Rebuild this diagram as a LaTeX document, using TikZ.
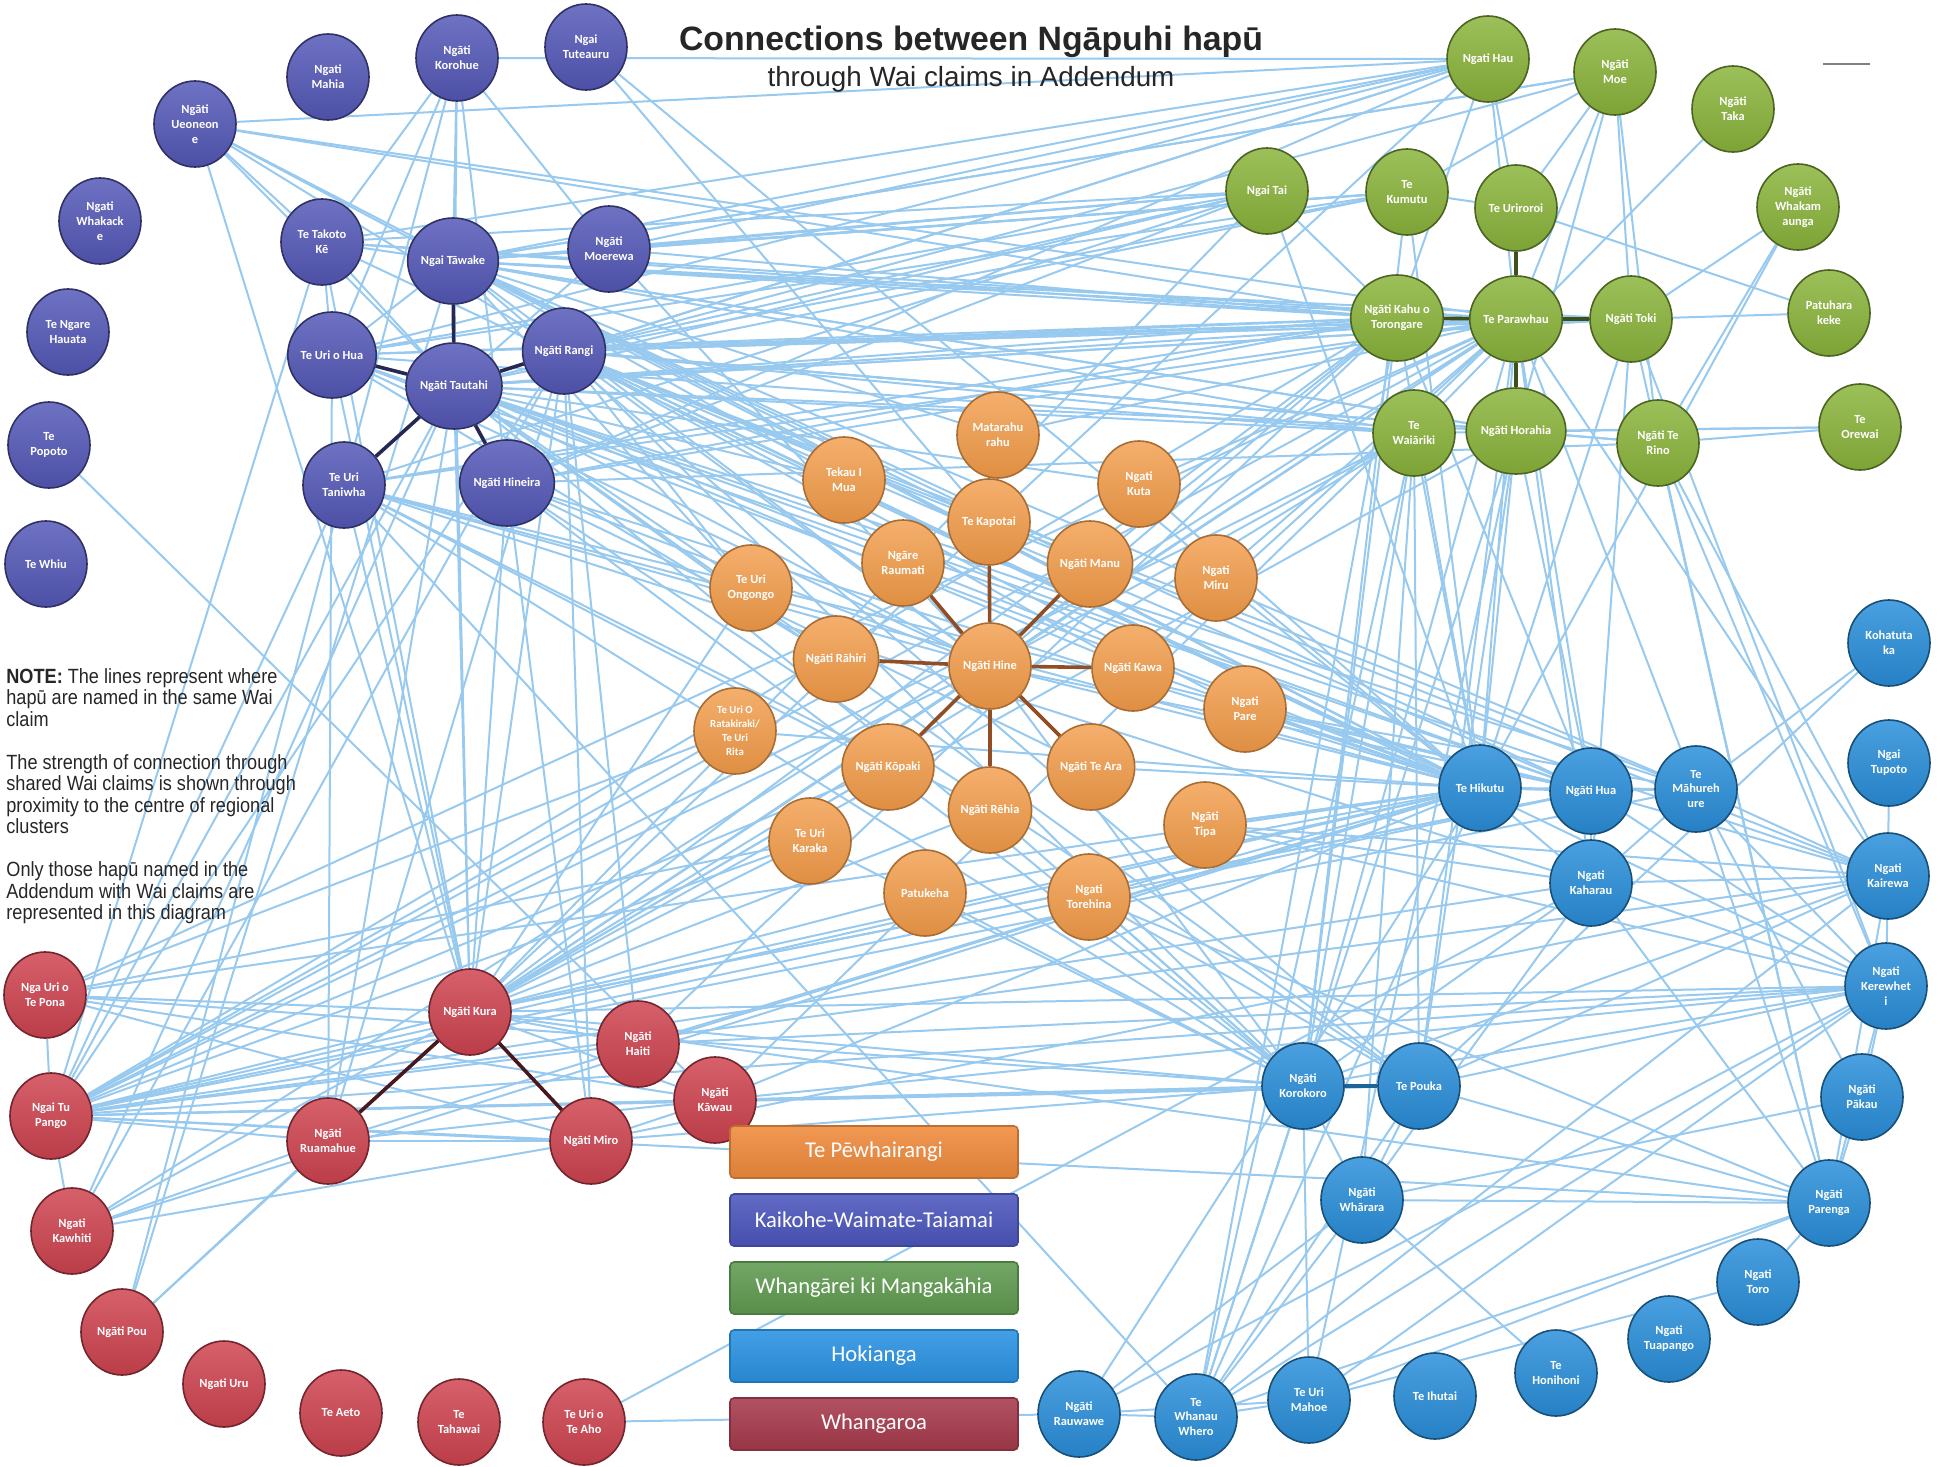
\documentclass[tikz,border=0pt]{standalone}
\usepackage{fontspec}
\setmainfont{Carlito}
\newfontfamily\titlefont{Liberation Sans}
\newfontfamily\notefont[FakeStretch=0.88]{Liberation Sans}
\usetikzlibrary{shapes.geometric}
\usetikzlibrary{backgrounds}

\definecolor{wai}{HTML}{98C9EF}
\definecolor{pewc}{HTML}{F29B48}
\definecolor{kwc}{HTML}{5559B8}
\definecolor{wkmc}{HTML}{8BB53C}
\definecolor{hokc}{HTML}{2A8FDA}
\definecolor{wgc}{HTML}{CF4450}
\definecolor{lpewc}{HTML}{EF8A3C}
\definecolor{lkwc}{HTML}{4C56BC}
\definecolor{lwkmc}{HTML}{5F9A50}
\definecolor{lhokc}{HTML}{2A92E2}
\definecolor{lwgc}{HTML}{A63A4C}

\tikzset{
    hapu/.style={ellipse, minimum width=41pt, minimum height=43pt, inner sep=0pt,
        align=center, text=white, line width=0.8pt,
        font=\bfseries\fontsize{6.2}{7.4}\selectfont},
    pew/.style={draw=pewc!70!black, top color=pewc!80!white, bottom color=pewc!92!black},
    kw/.style={draw=kwc!55!black, top color=kwc!85!white, bottom color=kwc!90!black},
    wkm/.style={draw=wkmc!55!black, top color=wkmc!85!white, bottom color=wkmc!90!black},
    hok/.style={draw=hokc!55!black, top color=hokc!85!white, bottom color=hokc!90!black},
    wg/.style={draw=wgc!55!black, top color=wgc!85!white, bottom color=wgc!90!black},
    link/.style={draw=wai, line width=1pt},
    core/.style={line width=1.8pt},
    region/.style={rectangle, rounded corners=2pt, minimum width=144pt, minimum height=26pt,
        text=white, line width=0.8pt, font=\fontsize{11.3}{13}\selectfont},
    key/.style={region, draw=#1!80!black, top color=#1!88!white, bottom color=#1!92!black},
}

\begin{document}
\begin{tikzpicture}[x=0.5pt, y=-0.5pt]
    \useasboundingbox (0,0) rectangle (1940,1467);

    \node [font=\titlefont\bfseries\fontsize{16.9}{19}\selectfont, text=black!85] (title) at (971,42) {Connections between Ngāpuhi hapū};
    \node [font=\titlefont\fontsize{13.9}{16}\selectfont, text=black!85] (subtitle) at (971,79) {through Wai claims in Addendum};

    \node [anchor=north west, align=left, inner sep=0pt, text=black!85,
           font=\notefont\fontsize{10.3}{10.75}\selectfont] (note) at (6,668)
        {\textbf{NOTE:} The lines represent where\\ hapū are named in the same Wai\\ claim\\[10.75pt]
         The strength of connection through\\ shared Wai claims is shown through\\
         proximity to the centre of regional\\ clusters\\[10.75pt]
         Only those hapū named in the\\ Addendum with Wai claims are\\ represented in this diagram};

    % Kaikohe-Waimate-Taiamai
    \node [hapu,kw] (mahia) at (328,77) {Ngati\\Mahia};
    \node [hapu,kw] (korohue) at (457,58) {Ngāti\\Korohue};
    \node [hapu,kw] (tuteauru) at (586,47) {Ngai\\Tuteauru};
    \node [hapu,kw] (ueoneone) at (195,124) {Ngāti\\Ueoneon\\e};
    \node [hapu,kw] (whakacke) at (100,221) {Ngati\\Whakack\\e};
    \node [hapu,kw] (takoto) at (322,242) {Te Takoto\\Kē};
    \node [hapu,kw] (tawake) at (453,261) {Ngai Tāwake};
    \node [hapu,kw] (moerewa) at (609,249) {Ngāti\\Moerewa};
    \node [hapu,kw] (ngare) at (68,332) {Te Ngare\\Hauata};
    \node [hapu,kw] (urihua) at (332,355) {Te Uri o Hua};
    \node [hapu,kw] (tautahi) at (454,386) {Ngāti Tautahi};
    \node [hapu,kw] (rangi) at (564,351) {Ngāti Rangi};
    \node [hapu,kw] (popoto) at (49,445) {Te\\Popoto};
    \node [hapu,kw] (taniwha) at (344,485) {Te Uri\\Taniwha};
    \node [hapu,kw] (hineira) at (507,483) {Ngāti Hineira};
    \node [hapu,kw] (whiu) at (46,564) {Te Whiu};

    % Whangarei ki Mangakahia
    \node [hapu,wkm] (hau) at (1488,59) {Ngati Hau};
    \node [hapu,wkm] (moe) at (1615,72) {Ngāti\\Moe};
    \node [hapu,wkm] (taka) at (1733,109) {Ngāti\\Taka};
    \node [hapu,wkm] (ngaitai) at (1267,191) {Ngai Tai};
    \node [hapu,wkm] (kumutu) at (1407,192) {Te\\Kumutu};
    \node [hapu,wkm] (uriroroi) at (1516,208) {Te Uriroroi};
    \node [hapu,wkm] (whakam) at (1798,207) {Ngāti\\Whakam\\aunga};
    \node [hapu,wkm] (kahu) at (1397,318) {Ngāti Kahu o\\Torongare};
    \node [hapu,wkm] (parawhau) at (1516,319) {Te Parawhau};
    \node [hapu,wkm] (toki) at (1631,319) {Ngāti Toki};
    \node [hapu,wkm] (patuh) at (1829,313) {Patuhara\\keke};
    \node [hapu,wkm] (wairiki) at (1414,433) {Te\\Waiāriki};
    \node [hapu,wkm] (horahia) at (1516,431) {Ngāti Horahia};
    \node [hapu,wkm] (rino) at (1658,443) {Ngāti Te\\Rino};
    \node [hapu,wkm] (orewai) at (1860,427) {Te\\Orewai};

    % Te Pewhairangi
    \node [hapu,pew] (matara) at (998,435) {Matarahu\\rahu};
    \node [hapu,pew] (tekau) at (844,480) {Tekau I\\Mua};
    \node [hapu,pew] (kuta) at (1139,484) {Ngati\\Kuta};
    \node [hapu,pew] (kapotai) at (989,522) {Te Kapotai};
    \node [hapu,pew] (raumati) at (903,563) {Ngāre\\Raumati};
    \node [hapu,pew] (manu) at (1090,564) {Ngāti Manu};
    \node [hapu,pew] (miru) at (1216,578) {Ngati\\Miru};
    \node [hapu,pew] (ongongo) at (751,588) {Te Uri\\Ongongo};
    \node [hapu,pew] (rahiri) at (836,659) {Ngāti Rāhiri};
    \node [hapu,pew] (hine) at (990,666) {Ngāti Hine};
    \node [hapu,pew] (kawa) at (1133,668) {Ngāti Kawa};
    \node [hapu,pew] (pare) at (1245,709) {Ngati\\Pare};
    \node [hapu,pew, font=\bfseries\fontsize{5.4}{7}\selectfont] (rataki) at (735,731) {Te Uri O\\Ratakiraki/\\Te Uri\\Rita};
    \node [hapu,pew] (kopaki) at (888,767) {Ngāti Kōpaki};
    \node [hapu,pew] (teara) at (1091,767) {Ngāti Te Ara};
    \node [hapu,pew] (rehia) at (990,810) {Ngāti Rēhia};
    \node [hapu,pew] (tipa) at (1205,825) {Ngāti\\Tipa};
    \node [hapu,pew] (karaka) at (810,841) {Te Uri\\Karaka};
    \node [hapu,pew] (patukeha) at (925,893) {Patukeha};
    \node [hapu,pew] (torehina) at (1089,897) {Ngati\\Torehina};

    % Hokianga
    \node [hapu,hok] (kohatu) at (1889,643) {Kohatuta\\ka};
    \node [hapu,hok] (tupoto) at (1889,763) {Ngai\\Tupoto};
    \node [hapu,hok] (hikutu) at (1480,788) {Te Hikutu};
    \node [hapu,hok] (hua) at (1591,791) {Ngāti Hua};
    \node [hapu,hok] (mahure) at (1696,789) {Te\\Māhureh\\ure};
    \node [hapu,hok] (kaharau) at (1591,883) {Ngati\\Kaharau};
    \node [hapu,hok] (kairewa) at (1888,876) {Ngati\\Kairewa};
    \node [hapu,hok] (kerewheti) at (1886,986) {Ngati\\Kerewhet\\i};
    \node [hapu,hok] (korokoro) at (1303,1086) {Ngāti\\Korokoro};
    \node [hapu,hok] (pouka) at (1419,1086) {Te Pouka};
    \node [hapu,hok] (pakau) at (1862,1097) {Ngāti\\Pākau};
    \node [hapu,hok] (wharara) at (1362,1200) {Ngāti\\Whārara};
    \node [hapu,hok] (parenga) at (1829,1203) {Ngāti\\Parenga};
    \node [hapu,hok] (toro) at (1758,1282) {Ngati\\Toro};
    \node [hapu,hok] (tuapango) at (1669,1339) {Ngati\\Tuapango};
    \node [hapu,hok] (honihoni) at (1556,1373) {Te\\Honihoni};
    \node [hapu,hok] (ihutai) at (1435,1396) {Te Ihutai};
    \node [hapu,hok] (urimahoe) at (1309,1400) {Te Uri\\Mahoe};
    \node [hapu,hok] (whanau) at (1196,1417) {Te\\Whanau\\Whero};
    \node [hapu,hok] (rauwawe) at (1079,1414) {Ngāti\\Rauwawe};

    % Whangaroa
    \node [hapu,wg] (pona) at (45,995) {Nga Uri o\\Te Pona};
    \node [hapu,wg] (kura) at (470,1012) {Ngāti Kura};
    \node [hapu,wg] (haiti) at (638,1044) {Ngāti\\Haiti};
    \node [hapu,wg] (tupango) at (51,1116) {Ngai Tu\\Pango};
    \node [hapu,wg] (kawau) at (715,1100) {Ngāti\\Kāwau};
    \node [hapu,wg] (ruamahue) at (328,1141) {Ngāti\\Ruamahue};
    \node [hapu,wg] (miro) at (591,1141) {Ngāti Miro};
    \node [hapu,wg] (kawhiti) at (72,1231) {Ngati\\Kawhiti};
    \node [hapu,wg] (pou) at (122,1332) {Ngāti Pou};
    \node [hapu,wg] (uru) at (224,1384) {Ngati Uru};
    \node [hapu,wg] (aeto) at (341,1413) {Te Aeto};
    \node [hapu,wg] (tahawai) at (459,1422) {Te\\Tahawai};
    \node [hapu,wg] (teaho) at (584,1422) {Te Uri o\\Te Aho};

    % legend
    \node [key=lpewc] (lpew) at (874,1152) {Te Pēwhairangi};
    \node [key=lkwc] (lkw) at (874,1220) {Kaikohe-Waimate-Taiamai};
    \node [key=lwkmc] (lwkm) at (874,1288) {Whangārei ki Mangakāhia};
    \node [key=lhokc] (lhok) at (874,1356) {Hokianga};
    \node [key=lwgc] (lwg) at (874,1424) {Whangaroa};

    \begin{pgfonlayer}{background}
        % shared Wai claims
        \foreach \a/\b in {tawake/hau, tawake/moe, tawake/ngaitai, tawake/kumutu, tawake/kahu, tawake/parawhau,
                tawake/toki, tawake/wairiki, tawake/horahia, tawake/hikutu, tawake/hua, tawake/mahure, tawake/hine,
                tawake/kapotai, tawake/manu, tawake/kura, tawake/korohue, tawake/takoto, tawake/ueoneone, tawake/moerewa,
                tautahi/hau, tautahi/kahu, tautahi/parawhau, tautahi/toki, tautahi/horahia, tautahi/wairiki,
                tautahi/hikutu, tautahi/hua, tautahi/hine, tautahi/rahiri, tautahi/kawa, tautahi/kura, tautahi/korokoro,
                tautahi/pouka, tautahi/korohue, tautahi/takoto, tautahi/moerewa,
                rangi/hau, rangi/ngaitai, rangi/kahu, rangi/parawhau, rangi/toki, rangi/rino, rangi/horahia, rangi/hikutu,
                rangi/hua, rangi/mahure, rangi/kairewa, rangi/hine, rangi/manu, rangi/kawa, rangi/pare, rangi/kura,
                urihua/hau, urihua/kahu, urihua/parawhau, urihua/hikutu, urihua/hine, urihua/rahiri, urihua/kura,
                urihua/ruamahue, urihua/korohue, urihua/takoto, urihua/tawake,
                taniwha/kahu, taniwha/hikutu, taniwha/hua, taniwha/hine, taniwha/kopaki, taniwha/rehia, taniwha/kura,
                taniwha/tupango, taniwha/korokoro, taniwha/kaharau, taniwha/whanau, taniwha/pou,
                hineira/parawhau, hineira/hikutu, hineira/hine, hineira/teara, hineira/kura, hineira/miro,
                hineira/korokoro, hineira/pouka, hineira/korohue,
                takoto/ueoneone, takoto/korohue, takoto/hau, takoto/kahu, takoto/hikutu, takoto/kura, takoto/tupango,
                ueoneone/tautahi, ueoneone/rangi, ueoneone/kahu, ueoneone/kura, ueoneone/hikutu, ueoneone/parawhau,
                korohue/taniwha, korohue/moerewa, moerewa/hau, moerewa/ngaitai, moerewa/kahu, moerewa/hine,
                tuteauru/hikutu, tuteauru/kapotai, popoto/kawau,
                hau/ueoneone, hau/korohue, kahu/hikutu, kahu/hua, kahu/korokoro, kahu/kura, kahu/hine,
                parawhau/hikutu, parawhau/hua, parawhau/mahure, parawhau/kaharau, parawhau/kairewa, parawhau/pouka,
                parawhau/korokoro, parawhau/kura, parawhau/hine, parawhau/tupango, parawhau/pona,
                toki/patuh, toki/whakam, toki/hikutu, toki/kaharau, toki/parenga, toki/kerewheti,
                uriroroi/patuh, uriroroi/hau, uriroroi/moe, uriroroi/kumutu,
                wairiki/hikutu, wairiki/korokoro, wairiki/pouka, wairiki/kura, wairiki/hine, wairiki/tupango,
                horahia/rino, horahia/orewai, horahia/hikutu, horahia/hua, horahia/pouka, horahia/kura, horahia/whanau,
                rino/orewai, rino/whakam, rino/kairewa, rino/kerewheti, rino/parenga,
                moe/toki, moe/rino, moe/parawhau, moe/kumutu, moe/horahia, taka/wairiki, whakam/hikutu, orewai/wairiki,
                ngaitai/tautahi, ngaitai/urihua, ngaitai/kura, ngaitai/hikutu, ngaitai/kahu,
                kumutu/tawake, kumutu/rangi, kumutu/hikutu, kumutu/korokoro, hau/kahu, hau/parawhau,
                hikutu/hua, hikutu/mahure, hikutu/kaharau, hikutu/kura, hikutu/kawau, hikutu/tupango, hikutu/ruamahue,
                hikutu/hine, hikutu/pare, hikutu/kawa, hikutu/tipa,
                hua/mahure, hua/kaharau, hua/kairewa, hua/kerewheti, hua/kura, hua/tupango,
                mahure/kohatu, mahure/kairewa, mahure/kerewheti, mahure/parenga, mahure/kaharau, mahure/pakau,
                kaharau/kairewa, kaharau/kerewheti, kaharau/parenga, kaharau/korokoro, kaharau/tupango, kaharau/wharara,
                korokoro/wharara, korokoro/whanau, korokoro/urimahoe, korokoro/kura, korokoro/tupango,
                korokoro/kairewa, korokoro/kerewheti,
                pouka/parenga, pouka/kairewa, pouka/kerewheti, pouka/wharara, pouka/whanau, pouka/kohatu,
                wharara/parenga, wharara/pakau, wharara/whanau, wharara/rauwawe, wharara/honihoni,
                parenga/toro, parenga/pakau, parenga/kairewa, parenga/kerewheti, parenga/whanau,
                kerewheti/kairewa, kerewheti/pakau, kerewheti/whanau, kerewheti/urimahoe, kerewheti/rauwawe,
                kairewa/tupoto, kairewa/whanau, whanau/rauwawe, whanau/urimahoe, urimahoe/parenga, urimahoe/toro,
                rauwawe/urimahoe, teaho/rauwawe, teaho/kaharau,
                tupango/pona, tupango/kawhiti, tupango/kura, tupango/ruamahue, tupango/miro, tupango/haiti,
                tupango/kawau, tupango/pouka, tupango/kairewa, tupango/kahu, tupango/tautahi, tupango/rangi,
                tupango/hine, tupango/kopaki, tupango/rataki,
                pona/kura, pona/miro, pona/kawau, pona/rataki, pona/hikutu,
                kura/haiti, kura/kawau, kura/miro, kura/ruamahue, kura/hine, kura/kapotai, kura/kopaki, kura/rehia,
                kawau/korokoro, kawau/kerewheti, kawau/pouka, kawau/parawhau,
                haiti/kahu, haiti/rangi, ruamahue/kawau, ruamahue/miro, ruamahue/kawhiti,
                miro/kawau, miro/korokoro, miro/kairewa, kawhiti/kura, kawhiti/miro, kawhiti/hikutu, kawhiti/parawhau,
                pou/ruamahue, pou/kura,
                hine/hua, hine/korokoro, matara/kapotai, matara/parawhau, matara/tawake,
                ongongo/tautahi, ongongo/rangi, ongongo/tawake, ongongo/kura,
                rataki/hikutu, karaka/tupango, karaka/kura, karaka/korokoro, patukeha/kura, patukeha/korokoro,
                torehina/hikutu, torehina/korokoro, torehina/pouka, tipa/hikutu, tipa/kaharau, tipa/kerewheti,
                pare/hikutu, pare/hua, pare/mahure, miru/parawhau, miru/hikutu,
                kuta/parawhau, kuta/tautahi, kuta/hikutu, tekau/tawake, tekau/tautahi,
                manu/kahu, kawa/parawhau, kapotai/hau, teara/hikutu, rehia/korokoro, kopaki/kura,
                ngaitai/takoto, ngaitai/taniwha, ngaitai/hineira, kumutu/tautahi, kumutu/urihua, kumutu/moerewa,
                hau/hineira, moe/tawake, moe/rangi, kahu/hineira, parawhau/taniwha, parawhau/takoto,
                horahia/tawake, horahia/rangi, wairiki/rangi, wairiki/urihua, toki/rangi, toki/tautahi, rino/hineira,
                hua/urihua, mahure/tautahi, kairewa/tautahi, kerewheti/rangi, korokoro/rangi, pouka/tawake,
                tupango/mahure, tupango/kerewheti, tupango/parenga, pona/korokoro, kawhiti/tautahi, kawhiti/rangi,
                pou/tawake, ruamahue/tautahi, ruamahue/rangi, miro/rangi, haiti/hikutu, haiti/kerewheti,
                kura/hua, kura/parenga, kura/kerewheti, karaka/pona, patukeha/hikutu, torehina/parenga,
                tipa/kairewa, whanau/hikutu, whanau/wairiki, urimahoe/horahia, rauwawe/hikutu, wharara/wairiki,
                whanau/kahu}
            \draw [link] (\a) -- (\b);

        % cluster centres
        \foreach \b in {tawake, urihua, rangi, taniwha, hineira}
            \draw [core, draw=kwc!45!black] (tautahi) -- (\b);
        \foreach \b in {uriroroi, kahu, toki, horahia}
            \draw [core, draw=wkmc!45!black] (parawhau) -- (\b);
        \foreach \b in {kapotai, raumati, manu, rahiri, kawa, kopaki, rehia, teara}
            \draw [core, draw=pewc!55!black!90!red] (hine) -- (\b);
        \foreach \b in {ruamahue, miro}
            \draw [core, draw=wgc!35!black] (kura) -- (\b);
        \draw [core, draw=hokc!70!black] (korokoro) -- (pouka);
    \end{pgfonlayer}

    \draw [gray, line width=1pt] (1823,64) -- (1870,64);
\end{tikzpicture}
\end{document}
